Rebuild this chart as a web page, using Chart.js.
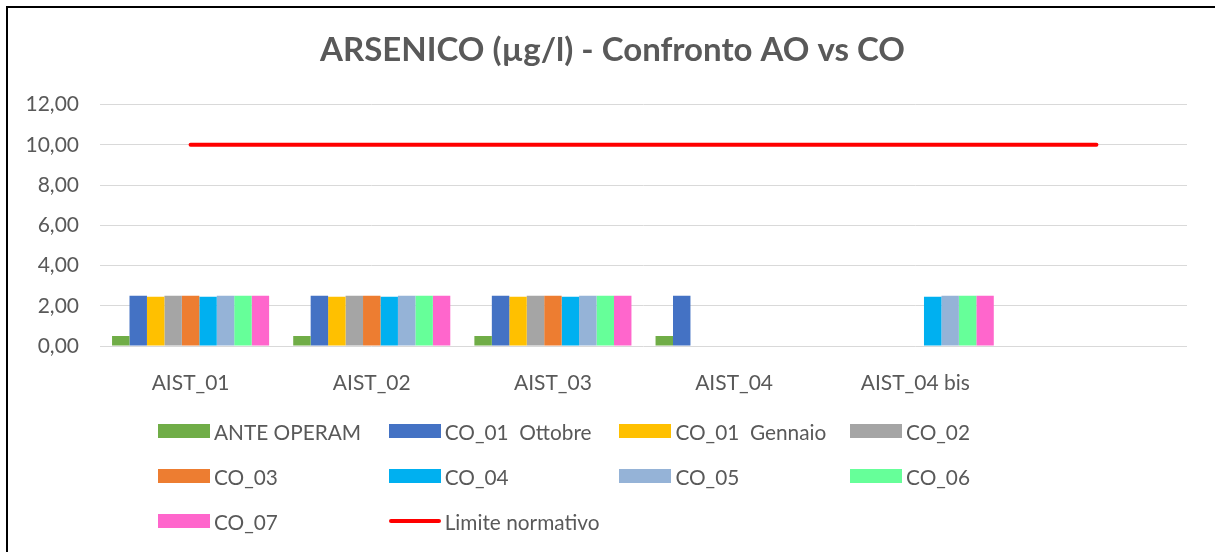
<!DOCTYPE html>
<html>
<head>
<meta charset="utf-8">
<script src="https://cdn.jsdelivr.net/npm/chart.js@4/dist/chart.umd.min.js"></script>
<style>
  html, body { margin: 0; padding: 0; background: #fff; }
  #wrap { position: relative; width: 1215px; height: 552px; overflow: hidden; }
  #c { position: absolute; left: 0; top: 0; }
  #frame { position: absolute; left: 6px; top: 6px; width: 1300px; height: 700px; border: 2px solid #000; box-sizing: border-box; pointer-events: none; }
  #legend { position: absolute; left: 158px; top: 421px; display: grid; grid-template-columns: repeat(4, 230.7px); grid-auto-rows: 45px; font-family: Lato, "Open Sans", sans-serif; font-size: 20.8px; color: #595959; }
  .item { display: flex; align-items: center; height: 20px; white-space: pre; }
  .box { width: 52px; height: 14px; margin-right: 4px; flex: none; }
  .line { width: 52px; height: 4px; border-radius: 2px; margin-right: 4px; flex: none; }
</style>
</head>
<body>
<div id="wrap">
  <canvas id="c" width="1215" height="552"></canvas>
  <div id="legend"></div>
  <div id="frame"></div>
</div>
<script>
const categories = ['AIST_01', 'AIST_02', 'AIST_03', 'AIST_04', 'AIST_04 bis', ''];
const yTicks = [0, 2, 4, 6, 8, 10, 12];

const anteOperam   = [0.5, 0.5, 0.5, 0.5, null, null];
const co01Ottobre  = [2.5, 2.5, 2.5, 2.5, null, null];
const co01Gennaio  = [2.45, 2.45, 2.45, null, null, null];
const co02         = [2.5, 2.5, 2.5, null, null, null];
const co03         = [2.5, 2.5, 2.5, null, null, null];
const co04         = [2.45, 2.45, 2.45, null, 2.45, null];
const co05         = [2.5, 2.5, 2.5, null, 2.5, null];
const co06         = [2.5, 2.5, 2.5, null, 2.5, null];
const co07         = [2.5, 2.5, 2.5, null, 2.5, null];
const limiteNormativo = [10, 10, 10, 10, 10, 10];

const barSeries = [
  { label: 'ANTE OPERAM', data: anteOperam, color: '#70AD47' },
  { label: 'CO_01  Ottobre', data: co01Ottobre, color: '#4472C4' },
  { label: 'CO_01  Gennaio', data: co01Gennaio, color: '#FFC000' },
  { label: 'CO_02', data: co02, color: '#A5A5A5' },
  { label: 'CO_03', data: co03, color: '#ED7D31' },
  { label: 'CO_04', data: co04, color: '#00B0F0' },
  { label: 'CO_05', data: co05, color: '#95B3D7' },
  { label: 'CO_06', data: co06, color: '#66FF99' },
  { label: 'CO_07', data: co07, color: '#FF66CC' }
];
const lineSeries = { label: 'Limite normativo', data: limiteNormativo, color: '#FF0000' };

const FONT = 'Lato, "Open Sans", sans-serif';
const TXT = '#595959';

const datasets = barSeries.map(s => ({
  type: 'bar',
  label: s.label,
  data: s.data,
  backgroundColor: s.color,
  borderWidth: 0,
  categoryPercentage: 0.867,
  barPercentage: 1.0,
  order: 2
}));
datasets.push({
  type: 'line',
  label: lineSeries.label,
  data: lineSeries.data,
  borderColor: lineSeries.color,
  backgroundColor: lineSeries.color,
  borderWidth: 4,
  pointRadius: 0,
  tension: 0,
  borderCapStyle: 'round',
  order: 1
});

new Chart(document.getElementById('c'), {
  data: { labels: categories, datasets },
  options: {
    responsive: false,
    animation: false,
    layout: { padding: { left: 10, right: 0, top: 0, bottom: 156 } },
    plugins: {
      legend: { display: false },
      tooltip: { enabled: false },
      title: {
        display: true,
        text: 'ARSENICO (µg/l) - Confronto AO vs CO',
        color: TXT,
        font: { family: FONT, size: 33, weight: 'bold', lineHeight: 1.2 },
        padding: { top: 31, bottom: 34 }
      }
    },
    scales: {
      x: {
        grid: { display: false },
        border: { display: false },
        ticks: { color: TXT, font: { family: FONT, size: 21 }, padding: 17, maxRotation: 0 },
        afterFit: s => { s.height = 50; }
      },
      y: {
        min: 0, max: 12,
        afterBuildTicks: s => { s.ticks = yTicks.map(v => ({ value: v })); },
        grid: { color: '#D9D9D9', lineWidth: 1, drawTicks: false },
        border: { display: false },
        ticks: {
          color: TXT, font: { family: FONT, size: 21 }, padding: 21,
          callback: v => v.toFixed(2).replace('.', ',')
        },
        afterFit: s => { s.width = 90; }
      },
      yRight: {
        position: 'right',
        display: true,
        min: 0, max: 12,
        grid: { display: false, drawTicks: false },
        border: { display: false },
        ticks: { display: false },
        afterFit: s => { s.width = 28; }
      }
    }
  }
});

const legend = document.getElementById('legend');
barSeries.forEach(s => {
  const it = document.createElement('div');
  it.className = 'item';
  it.innerHTML = '<span class="box" style="background:' + s.color + '"></span>';
  it.appendChild(document.createTextNode(s.label));
  legend.appendChild(it);
});
{
  const it = document.createElement('div');
  it.className = 'item';
  it.innerHTML = '<span class="line" style="background:' + lineSeries.color + '"></span>';
  it.appendChild(document.createTextNode(lineSeries.label));
  legend.appendChild(it);
}
</script>
</body>
</html>
